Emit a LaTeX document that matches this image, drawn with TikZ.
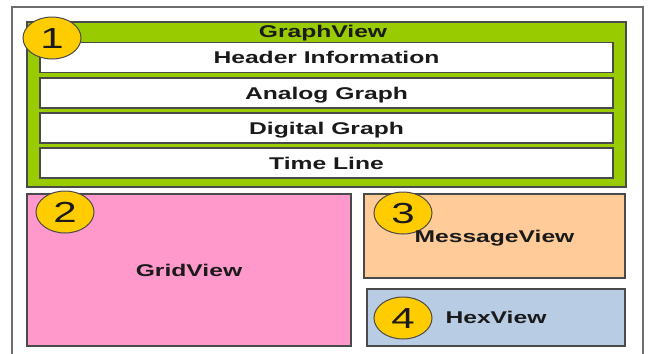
\documentclass[tikz,border=0pt]{standalone}
\usepackage{fontspec}
\setmainfont{Liberation Sans}
\newfontfamily\viewfont[FakeStretch=1.45]{Liberation Sans}
\usepackage{tikz}
\usetikzlibrary{shapes.geometric}
\definecolor{framegray}{HTML}{6E6E6E}
\definecolor{edgegray}{HTML}{4A4A4A}
\definecolor{graphgreen}{HTML}{99CC00}
\definecolor{gridpink}{HTML}{FF99CC}
\definecolor{msgpeach}{HTML}{FFCC99}
\definecolor{hexblue}{HTML}{B8CCE4}
\definecolor{badgeyellow}{HTML}{FFCC00}
\definecolor{inkdark}{HTML}{1A1A1A}
\tikzset{
  vtext/.style={inner sep=0pt, text=inkdark, text height=12.2pt, text depth=0pt,
               font=\viewfont\bfseries\fontsize{17}{20}\selectfont},
  vbox/.style={rectangle, vtext, draw=edgegray, line width=1.2pt},
  rowbox/.style={vbox, fill=white, minimum width=573pt, minimum height=30pt},
  badge/.style={ellipse, draw=edgegray, line width=1pt, fill=badgeyellow,
               minimum width=58pt, minimum height=42pt, inner sep=0pt,
               text=inkdark, text height=20.8pt, text depth=0pt,
               font=\viewfont\fontsize{29}{30}\selectfont},
}

\begin{document}
\begin{tikzpicture}[x=1pt, y=-1pt]
  \useasboundingbox (0,0) rectangle (649,354);

  % outer window frame, open at the bottom
  \draw[framegray, line width=2.2pt] (12,354) -- (12,7) -- (643,7) -- (643,354);

  \node[vbox, fill=graphgreen, minimum width=599pt, minimum height=165pt] (graph) at (326.5,104.5) {};
  \node[vtext] (graphtitle) at (323,31) {GraphView};
  \node[rowbox] (header)   at (326.5,57.5) {Header Information};
  \node[rowbox] (analog)   at (326.5,93)   {Analog Graph};
  \node[rowbox] (digital)  at (326.5,128)  {Digital Graph};
  \node[rowbox] (timeline) at (326.5,163)  {Time Line};

  \node[vbox, fill=gridpink, minimum width=324pt, minimum height=152pt] (grid) at (189,270) {GridView};
  \node[vbox, fill=msgpeach, minimum width=261pt, minimum height=84pt]  (msg)  at (494.5,236) {};
  \node[vbox, fill=hexblue,  minimum width=258pt, minimum height=57pt]  (hex)  at (496,317.5) {HexView};

  \node[badge] (one)   at (52,38)  {1};
  \node[badge] (two)   at (65,212) {2};
  \node[badge] (three) at (403,213) {3};
  \node[badge] (four)  at (403,318) {4};

  % label sits over badge 3
  \node[vtext] (msgtitle) at (msg.center) {MessageView};
\end{tikzpicture}
\end{document}
